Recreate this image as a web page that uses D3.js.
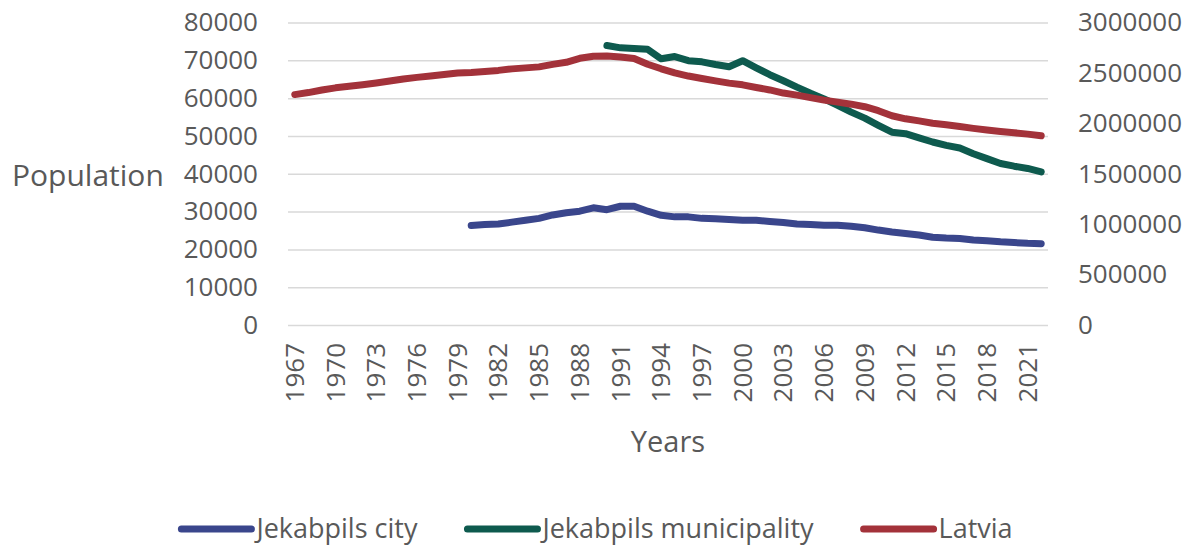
<!DOCTYPE html>
<html>
<head>
<meta charset="utf-8">
<script src="https://cdn.jsdelivr.net/npm/d3@7"></script>
<style>
  body { margin: 0; background: #fff; }
  text { font-family: "Open Sans", sans-serif; fill: #595959; }
</style>
</head>
<body>
<svg width="1191" height="548"></svg>
<script>
// years on the category axis
var years = d3.range(1967, 2023);
var yearLabels = d3.range(1967, 2023, 3);

// Jekabpils city, 1980-2022 (left axis)
var cityYears = d3.range(1980, 2023);
var cityValues = [26300, 26600, 26700, 27200, 27700, 28200, 29100, 29700, 30100, 31000,
  30500, 31400, 31400, 30100, 29000, 28600, 28600, 28200, 28100, 27900,
  27700, 27700, 27400, 27100, 26700, 26600, 26400, 26400, 26100, 25700,
  25100, 24600, 24200, 23800, 23200, 23000, 22900, 22500, 22300, 22000,
  21800, 21600, 21500];

// Jekabpils municipality, 1990-2022 (left axis)
var muniYears = d3.range(1990, 2023);
var muniValues = [73900, 73300, 73100, 72900, 70400, 71000, 69900, 69600, 68900, 68300,
  69900, 68000, 66200, 64600, 62900, 61300, 59800, 58100, 56300, 54700,
  52800, 51000, 50600, 49500, 48400, 47500, 46800, 45300, 44000, 42700,
  42000, 41400, 40500];

// Latvia, 1967-2022 (right axis)
var latviaValues = [2285000, 2305000, 2330000, 2352000, 2368000, 2383000, 2400000, 2420000, 2440000, 2456000,
  2470000, 2485000, 2500000, 2505000, 2515000, 2525000, 2540000, 2550000, 2560000, 2585000,
  2605000, 2645000, 2665000, 2668000, 2658000, 2643000, 2586000, 2541000, 2501000, 2469000,
  2445000, 2421000, 2399000, 2382000, 2355000, 2331000, 2300000, 2280000, 2255000, 2230000,
  2210000, 2190000, 2165000, 2125000, 2075000, 2045000, 2024000, 2001000, 1986000, 1969000,
  1950000, 1934000, 1920000, 1907000, 1893000, 1876000];

var leftTicks = d3.range(0, 80001, 10000);
var rightTicks = d3.range(0, 3000001, 500000);

var seriesNames = ["Jekabpils city", "Jekabpils municipality", "Latvia"];
var seriesColors = ["#3a468c", "#0e5a4e", "#a3323a"];

var svg = d3.select("svg");
var plot = { left: 288, right: 1048, top: 22.5, bottom: 325 };

var x = d3.scaleBand().domain(years).range([plot.left, plot.right]);
var xc = function(yr) { return x(yr) + x.bandwidth() / 2; };
var yL = d3.scaleLinear().domain([0, 80000]).range([plot.bottom, plot.top]);
var yR = d3.scaleLinear().domain([0, 3000000]).range([plot.bottom, plot.top]);

// gridlines
svg.append("g")
  .attr("transform", "translate(" + plot.left + ",0)")
  .call(d3.axisLeft(yL).tickValues(leftTicks).tickSize(-(plot.right - plot.left)).tickFormat(""))
  .call(function(g) {
    g.select(".domain").remove();
    g.selectAll("line").attr("stroke", "#d9d9d9").attr("stroke-width", 1.5);
  });

// left axis labels
svg.append("g")
  .attr("transform", "translate(" + plot.left + ",0)")
  .call(d3.axisLeft(yL).tickValues(leftTicks).tickSize(0).tickPadding(30).tickFormat(d3.format("d")))
  .call(function(g) {
    g.select(".domain").remove();
    g.selectAll("text").attr("font-size", 26).attr("font-family", "Open Sans").attr("fill", "#595959");
  });

// right axis labels
svg.append("g")
  .attr("transform", "translate(" + plot.right + ",0)")
  .call(d3.axisRight(yR).tickValues(rightTicks).tickSize(0).tickPadding(30).tickFormat(d3.format("d")))
  .call(function(g) {
    g.select(".domain").remove();
    g.selectAll("text").attr("font-size", 26).attr("font-family", "Open Sans").attr("fill", "#595959");
  });

// x axis labels, rotated
svg.append("g")
  .selectAll("text")
  .data(yearLabels)
  .enter()
  .append("text")
  .attr("transform", function(d) { return "translate(" + xc(d) + "," + (plot.bottom + 18) + ") rotate(-90)"; })
  .attr("text-anchor", "end")
  .attr("dy", "0.35em")
  .attr("font-size", 26)
  .text(function(d) { return d; });

// axis titles
svg.append("text")
  .text("Population")
  .attr("x", 12)
  .attr("y", 175)
  .attr("dy", "0.35em")
  .attr("font-size", 30);

svg.append("text")
  .text("Years")
  .attr("x", (plot.left + plot.right) / 2)
  .attr("y", 442)
  .attr("dy", "0.35em")
  .attr("text-anchor", "middle")
  .attr("font-size", 29);

// lines
function drawLine(yrs, vals, scale, color) {
  var line = d3.line()
    .x(function(d, i) { return xc(yrs[i]); })
    .y(function(d) { return scale(d); });
  svg.append("path")
    .datum(vals)
    .attr("d", line)
    .attr("fill", "none")
    .attr("stroke", color)
    .attr("stroke-width", 7)
    .attr("stroke-linecap", "round")
    .attr("stroke-linejoin", "round");
}
drawLine(cityYears, cityValues, yL, seriesColors[0]);
drawLine(muniYears, muniValues, yL, seriesColors[1]);
drawLine(years, latviaValues, yR, seriesColors[2]);

// legend, centred on the page
var legend = svg.append("g");
var cursor = 0;
seriesNames.forEach(function(name, i) {
  var item = legend.append("g").attr("transform", "translate(" + cursor + ",0)");
  item.append("line")
    .attr("x1", 3).attr("x2", 73)
    .attr("y1", 0).attr("y2", 0)
    .attr("stroke", seriesColors[i])
    .attr("stroke-width", 7)
    .attr("stroke-linecap", "round");
  var t = item.append("text")
    .text(name)
    .attr("x", 78)
    .attr("dy", "0.35em")
    .attr("font-size", 27);
  cursor += 78 + t.node().getComputedTextLength() + 47;
});
var legendW = cursor - 47;
legend.attr("transform", "translate(" + (1191 - legendW) / 2 + ",529)");
</script>
</body>
</html>
